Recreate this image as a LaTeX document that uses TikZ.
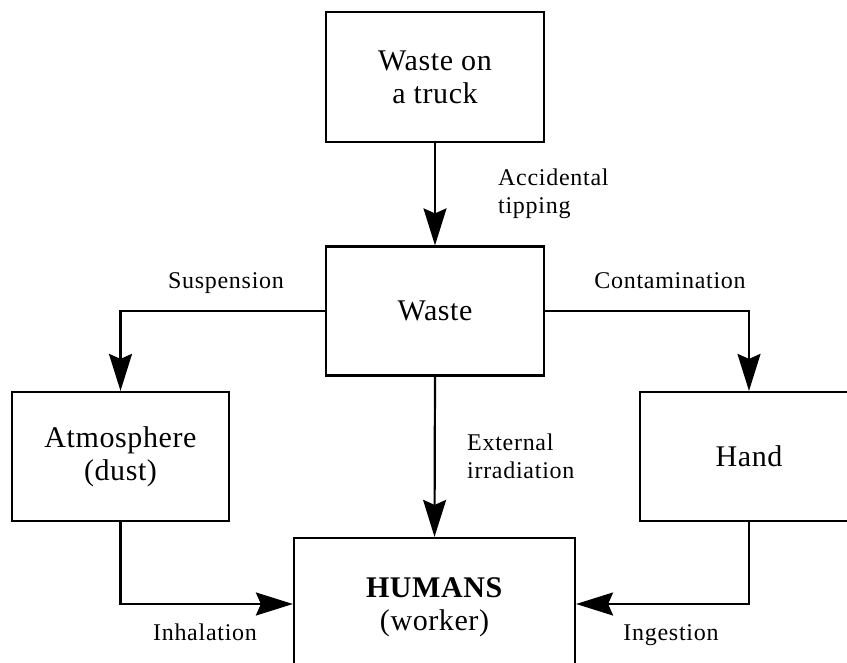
\documentclass[tikz,border=0pt]{standalone}
\usepackage{fontspec}
\setmainfont{Liberation Serif}
\newfontfamily\boxfont[LetterSpace=2]{Liberation Serif}
\newfontfamily\lblfont[LetterSpace=3]{Liberation Serif}
\usetikzlibrary{arrows.meta}
\begin{document}
\begin{tikzpicture}[x=1pt,y=-1pt,
  stagebox/.style={draw,line width=2.2pt,rectangle,inner sep=0pt,align=center,
    font=\boxfont\fontsize{30pt}{33pt}\selectfont},
  flow/.style={line width=2.2pt,-{Stealth[length=37pt,width=23pt,inset=5pt]}},
  lbl/.style={inner sep=0pt,align=left,font=\lblfont\fontsize{24pt}{28pt}\selectfont}]
\useasboundingbox (0,0) rectangle (847,663);
\clip (0,0) rectangle (847,663);

% compartments
\node[stagebox,minimum width=218pt,minimum height=130pt] (truck) at (435,77) {Waste on\\a truck};
\node[stagebox,minimum width=218pt,minimum height=129pt] (waste) at (435,311) {Waste};
\node[stagebox,minimum width=217pt,minimum height=129pt] (atmo) at (120.5,456.5) {Atmosphere\\(dust)};
\node[stagebox,minimum width=218pt,minimum height=129pt] (hand) at (749,456.5) {Hand};
\node[stagebox,minimum width=281pt,minimum height=138pt] (humans) at (434.5,607) {\textbf{HUMANS}\\(worker)};

% transfer pathways
\draw[flow] (truck.south) -- (waste.north);
\draw[flow] (waste.west) -| (atmo.north);
\draw[flow] (waste.east) -| (hand.north);
\draw[flow] (waste.south) -- (humans.north);
\draw[flow] (atmo.south) |- ([yshift=3pt]humans.west);
\draw[flow] (hand.south) |- ([yshift=3pt]humans.east);

% pathway labels
\node[lbl,anchor=north west] (ltip) at (498,168.5) {Accidental\\tipping};
\node[lbl,anchor=base] (lsus) at (226,289) {Suspension};
\node[lbl,anchor=base] (lcon) at (670,289) {Contamination};
\node[lbl,anchor=north west] (lext) at (467,433.5) {External\\irradiation};
\node[lbl,anchor=base] (linh) at (205,640) {Inhalation};
\node[lbl,anchor=base] (ling) at (671,640) {Ingestion};
\end{tikzpicture}
\end{document}
